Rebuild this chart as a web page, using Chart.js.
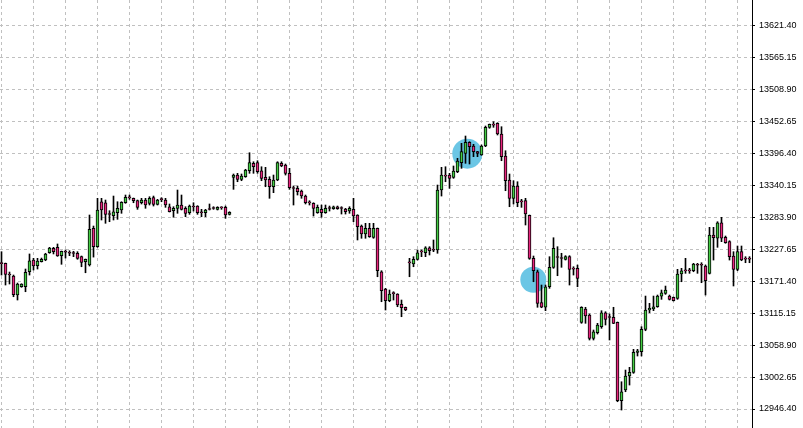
<!DOCTYPE html>
<html><head><meta charset="utf-8">
<script src="https://cdn.jsdelivr.net/npm/chart.js@4.4.0/dist/chart.umd.min.js"></script>
<style>html,body{margin:0;padding:0;background:#fff;overflow:hidden}canvas{display:block}</style>
</head><body>
<canvas id="c" width="803" height="428"></canvas>
<script>
const openP = [
13203.4,13202.9,13184.1,13180.5,13147.1,13161.7,13161.7,13188.1,13208.7,13198.7,
13205.7,13208.7,13221.6,13229.4,13231.1,13216.4,13223.4,13221.1,13220.6,13220.6,
13214.6,13205.7,13199.9,13264.6,13232.2,13311.4,13309.6,13289.7,13286.8,13292.0,
13296.8,13309.6,13318.8,13317.4,13313.2,13309.6,13314.4,13308.6,13318.5,13306.8,
13315.6,13314.4,13302.6,13295.6,13299.8,13305.6,13299.8,13292.0,13302.6,13303.8,
13292.4,13292.0,13298.2,13300.0,13298.0,13301.0,13301.5,13289.2,13354.4,13358.4,
13350.8,13355.4,13366.0,13379.0,13380.1,13366.0,13354.4,13350.8,13337.8,13349.6,
13379.0,13376.0,13361.4,13335.2,13335.0,13330.2,13321.4,13309.8,13308.6,13292.0,
13298.0,13292.0,13300.0,13299.1,13302.6,13300.0,13298.6,13295.0,13298.0,13288.0,
13268.6,13254.5,13264.6,13248.7,13264.6,13188.1,13157.7,13137.1,13150.3,13148.9,
13130.7,13125.5,13204.3,13201.7,13210.0,13223.6,13221.6,13230.4,13226.5,13226.4,
13332.0,13357.0,13358.4,13354.4,13364.2,13380.1,13396.6,13416.0,13409.5,13399.5,
13393.6,13409.5,13442.4,13446.8,13449.5,13430.6,13391.9,13349.6,13317.4,13339.1,
13311.6,13313.2,13287.5,13211.7,13188.1,13133.6,13125.5,13161.7,13195.9,13213.7,
13211.9,13210.0,13214.6,13193.1,13194.1,13099.0,13122.5,13111.9,13070.9,13080.7,
13091.3,13115.9,13108.0,13107.8,13099.0,12960.9,12979.8,13004.5,13011.0,13046.2,
13047.3,13086.7,13120.7,13122.5,13126.5,13145.3,13150.1,13145.3,13143.0,13141.3,
13184.1,13190.1,13190.1,13189.9,13200.1,13200.1,13198.2,13185.3,13252.8,13247.0,
13274.4,13248.7,13241.0,13215.8,13192.4,13223.4,13210.7,13210.7
];
const highP = [
13223.4,13203.4,13187.6,13182.3,13168.2,13167.0,13192.9,13219.4,13211.7,13211.7,
13212.2,13220.6,13231.1,13231.1,13237.0,13224.6,13226.4,13225.1,13224.1,13223.4,
13215.8,13210.5,13288.0,13268.6,13317.4,13317.4,13314.4,13295.6,13321.4,13311.4,
13311.4,13323.2,13323.2,13317.9,13314.4,13317.4,13317.4,13320.2,13321.4,13315.6,
13318.5,13317.4,13307.4,13302.6,13332.0,13323.2,13302.6,13305.6,13309.6,13304.4,
13298.0,13298.0,13307.4,13302.6,13302.6,13302.6,13303.8,13293.8,13360.2,13361.4,
13360.2,13368.5,13397.7,13381.8,13383.6,13373.0,13372.0,13355.4,13358.4,13381.8,
13381.8,13377.8,13370.2,13339.1,13339.1,13332.0,13323.2,13313.2,13309.6,13305.6,
13305.6,13305.6,13303.8,13303.8,13303.8,13302.6,13299.8,13302.6,13317.4,13288.5,
13270.4,13273.4,13273.4,13273.4,13265.1,13189.9,13158.9,13155.9,13152.9,13149.4,
13138.3,13126.0,13211.7,13214.6,13226.4,13226.4,13232.2,13232.2,13244.0,13340.8,
13372.0,13373.0,13361.4,13374.3,13387.8,13414.2,13427.1,13417.1,13412.5,13400.0,
13411.3,13444.7,13448.2,13452.3,13450.5,13443.5,13401.2,13360.2,13348.4,13346.6,
13315.6,13317.4,13288.0,13215.8,13191.1,13164.7,13164.7,13214.6,13248.0,13232.2,
13220.6,13216.4,13216.4,13196.9,13199.9,13126.5,13125.5,13113.7,13085.5,13097.3,
13119.5,13117.7,13113.7,13125.5,13099.6,12994.4,13015.0,13019.8,13051.5,13051.5,
13091.3,13145.3,13132.5,13145.3,13147.1,13155.9,13162.9,13147.1,13143.6,13192.4,
13194.1,13211.7,13194.1,13202.9,13202.9,13204.0,13199.9,13266.3,13266.3,13276.2,
13283.9,13251.0,13242.7,13223.4,13233.4,13233.4,13214.6,13214.6
];
const lowP = [
13182.3,13164.7,13166.5,13144.1,13138.3,13160.7,13152.9,13182.3,13191.1,13192.9,
13205.2,13207.5,13220.6,13219.4,13215.2,13201.2,13212.2,13216.4,13214.6,13210.0,
13196.9,13186.3,13198.2,13213.9,13231.1,13279.2,13273.4,13276.2,13279.2,13280.4,
13291.0,13308.6,13315.6,13309.6,13298.0,13307.4,13299.8,13305.6,13303.8,13305.6,
13311.4,13301.5,13293.3,13284.1,13291.0,13296.8,13285.0,13289.2,13295.0,13289.2,
13285.0,13285.0,13296.8,13298.0,13296.8,13298.0,13282.2,13288.0,13333.2,13346.6,
13348.4,13354.4,13361.4,13361.4,13361.4,13348.4,13337.8,13317.4,13327.3,13348.4,
13373.0,13358.4,13333.2,13305.6,13323.2,13317.4,13307.4,13305.6,13286.2,13291.0,
13284.1,13291.0,13295.0,13298.0,13298.0,13289.7,13289.7,13291.0,13276.2,13244.0,
13247.0,13247.0,13248.7,13247.0,13179.3,13135.3,13120.7,13135.3,13138.3,13126.5,
13108.9,13119.5,13179.3,13196.9,13208.7,13214.6,13214.6,13217.6,13223.4,13220.6,
13321.4,13346.6,13335.0,13352.6,13362.5,13370.2,13379.0,13377.8,13390.7,13390.7,
13393.1,13408.3,13440.7,13442.4,13428.9,13383.6,13330.8,13302.6,13307.4,13302.6,
13301.5,13270.4,13210.0,13170.5,13125.5,13124.7,13119.5,13158.9,13194.1,13181.1,
13195.9,13208.7,13164.7,13182.3,13161.7,13097.3,13097.3,13067.9,13067.9,13078.4,
13088.5,13094.3,13067.9,13096.7,12959.2,12944.6,12976.8,12988.6,13009.2,13039.7,
13039.7,13084.2,13115.9,13119.5,13125.5,13139.5,13148.3,13138.3,13136.5,13139.5,
13170.5,13185.3,13185.3,13188.1,13185.3,13168.8,13147.1,13184.1,13208.7,13231.1,
13241.0,13238.2,13208.7,13163.0,13189.9,13207.5,13204.0,13204.0
];
const closeP = [
13202.5,13183.5,13182.3,13147.6,13166.5,13166.5,13187.1,13207.5,13198.2,13207.0,
13210.0,13219.4,13229.9,13223.4,13215.8,13224.1,13222.5,13220.6,13220.2,13211.7,
13204.6,13210.0,13262.8,13232.2,13296.8,13296.8,13289.2,13288.9,13293.8,13299.8,
13310.3,13319.2,13318.1,13313.2,13301.5,13314.4,13305.6,13317.4,13306.8,13314.4,
13315.1,13305.6,13293.8,13299.8,13305.6,13298.0,13291.0,13303.8,13302.1,13292.0,
13291.9,13296.8,13297.7,13299.4,13301.5,13300.5,13288.0,13292.7,13358.4,13350.8,
13356.7,13367.2,13380.1,13373.0,13364.2,13352.6,13349.6,13337.8,13349.6,13380.1,
13374.3,13361.4,13336.1,13334.6,13329.0,13321.4,13309.6,13309.3,13299.8,13301.5,
13292.0,13299.8,13299.4,13302.6,13299.1,13299.4,13293.8,13299.8,13286.2,13267.4,
13254.5,13264.6,13249.8,13264.6,13189.9,13154.7,13137.1,13148.9,13149.7,13129.5,
13124.7,13120.7,13203.8,13210.0,13221.6,13223.0,13230.4,13225.1,13226.0,13332.0,
13358.4,13356.5,13352.6,13365.5,13383.1,13399.5,13416.0,13408.3,13399.5,13396.6,
13409.5,13442.4,13447.7,13446.3,13430.6,13390.7,13348.4,13317.4,13339.1,13309.6,
13311.1,13289.7,13211.7,13189.9,13132.5,13125.5,13161.7,13195.9,13229.4,13213.1,
13211.4,13214.6,13192.4,13192.6,13176.5,13125.5,13110.1,13070.9,13082.5,13094.3,
13115.9,13104.3,13107.5,13097.3,12960.9,12976.8,13004.5,13011.0,13046.2,13049.0,
13086.7,13120.7,13123.7,13126.5,13145.3,13151.1,13155.9,13139.5,13137.1,13184.1,
13189.9,13189.6,13189.6,13201.7,13199.6,13199.6,13172.3,13252.8,13248.0,13274.4,
13247.0,13239.2,13214.6,13192.4,13223.4,13208.7,13210.2,13210.2
];
const yTicks = [12946.40,13002.65,13058.90,13115.15,13171.40,13227.65,13283.90,13340.15,13396.40,13452.65,13508.90,13565.15,13621.40];
const xGridBars = [4,12,20,28,36,44,52,60,68,76,84,92,100,108,116,124,132,140,148,156,164,172,180];
const markX = [116.45, 132.95];
const markY = [13396.0, 13174.0];

const GREEN = '#44cc44', PINK = '#e8267e', CIRCLE = '#6bc6e5', GRID = '#c0c0c0';
const idx = openP.map((_, i) => i);
const wickData = idx.map(i => ({x: i, y: [lowP[i], highP[i]]}));
const bodyData = idx.map(i => ({x: i, y: [openP[i], closeP[i]]}));
const bodyColors = idx.map(i => closeP[i] > openP[i] ? GREEN : (closeP[i] < openP[i] ? PINK : '#000'));

function zeroPad(s) { s.paddingTop = 0; s.paddingBottom = 0; s.paddingLeft = 0; s.paddingRight = 0; }

new Chart(document.getElementById('c'), {
  type: 'bar',
  data: { datasets: [
    {type: 'scatter', data: markX.map((x, i) => ({x: x, y: markY[i]})), pointRadius: [15, 13], pointHoverRadius: [15, 13],
     backgroundColor: CIRCLE, borderWidth: 0, order: 3},
    {data: wickData, backgroundColor: '#000', borderWidth: 0, barThickness: 1, grouped: false, order: 2},
    {data: bodyData, backgroundColor: bodyColors, borderColor: '#000', borderWidth: 1, borderSkipped: false,
     barThickness: 3, grouped: false, minBarLength: 1, order: 1}
  ]},
  options: {
    responsive: false, animation: false, devicePixelRatio: 1, events: [],
    layout: {padding: 0, autoPadding: false},
    plugins: {legend: {display: false}, tooltip: {enabled: false}},
    scales: {
      x: {type: 'linear', min: -0.375, max: 187.625, offset: false,
          ticks: {display: false},
          grid: {color: GRID, lineWidth: 1, drawTicks: false},
          border: {display: false, dash: [3, 3]},
          afterBuildTicks: s => { s.ticks = xGridBars.map(v => ({value: v})); },
          afterFit: s => { s.height = 0; zeroPad(s); }},
      y: {position: 'right', min: 12912.95, max: 13666.6,
          afterBuildTicks: s => { s.ticks = yTicks.map(v => ({value: v})); },
          afterFit: s => { s.width = 51; zeroPad(s); },
          ticks: {callback: v => Number(v).toFixed(2), color: '#000', padding: 4, autoSkip: false,
                  font: {family: 'Liberation Sans', size: 9}},
          grid: {color: GRID, lineWidth: 1, drawTicks: true, tickLength: 3, tickColor: '#000', tickBorderDash: []},
          border: {display: true, color: '#000', width: 1, dash: [3, 3]}}
    }
  }
});
</script>
</body></html>
